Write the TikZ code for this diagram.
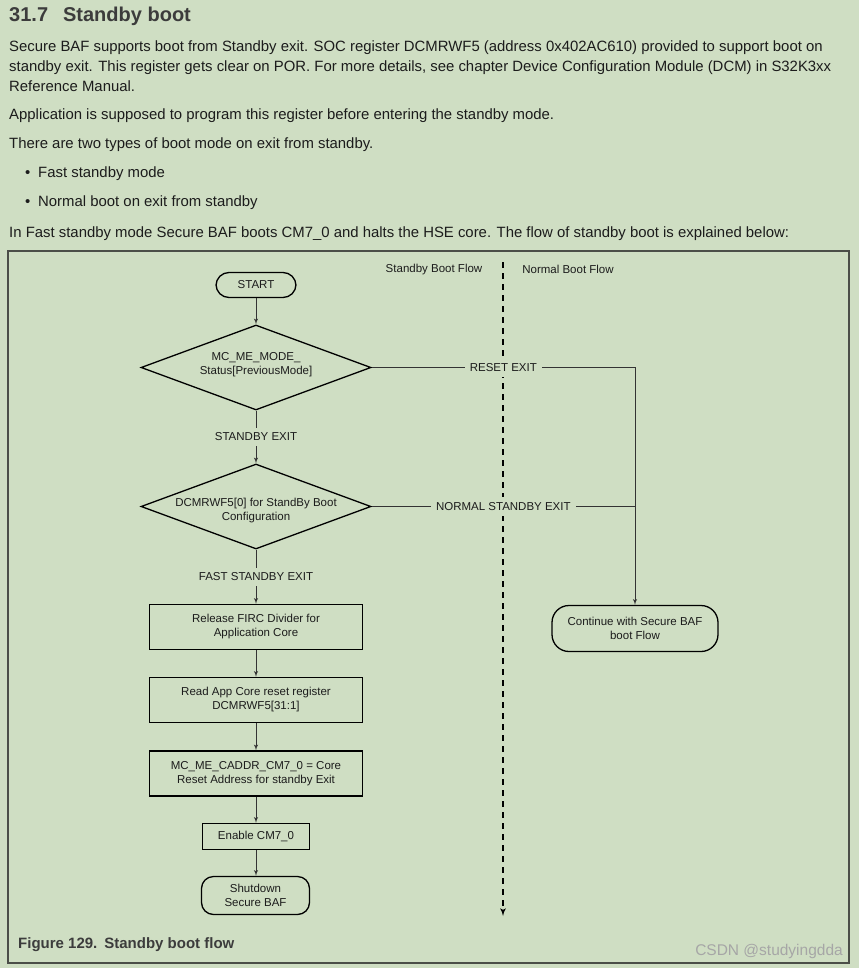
\documentclass[tikz,border=0pt]{standalone}
\usepackage{fontspec}
\setmainfont{Liberation Sans}
\usetikzlibrary{shapes,arrows,positioning}
\definecolor{pagebg}{RGB}{207,222,195}
\definecolor{bodytext}{RGB}{28,28,28}
\definecolor{headtext}{RGB}{60,60,60}
\definecolor{framegray}{RGB}{75,78,72}
\newcommand{\bodyfont}{\fontsize{14.9}{20}\selectfont}
\newcommand{\diagfont}{\fontsize{11.5}{14}\selectfont}

\begin{document}
\begin{tikzpicture}[
    x=1pt, y=1pt,
    textline/.style={anchor=base west, inner sep=0pt, text=bodytext, font=\bodyfont},
    term/.style={rectangle, draw=black, line width=1.3pt, rounded corners=13pt, align=center, font=\diagfont, text=bodytext},
    block/.style={rectangle, draw=black, line width=1.3pt, minimum width=213pt, minimum height=45pt, align=center, font=\diagfont, text=bodytext},
    decision/.style={diamond, draw=black, line width=1.3pt, aspect=2.7, minimum width=230pt, minimum height=85pt, inner sep=0pt},
    dtext/.style={align=center, font=\diagfont, text=bodytext},
    lbl/.style={fill=pagebg, inner sep=5pt, font=\diagfont, text=bodytext},
    line/.style={draw=black!80, line width=1pt, -latex'},
    link/.style={draw=black!80, line width=1pt},
    divider/.style={draw=black, line width=1.6pt, dash pattern=on 6pt off 5pt, -latex'}
  ]
    \fill[pagebg] (0,0) rectangle (859,-968);
    \useasboundingbox (0,0) rectangle (859,-968);

    % heading and text above the figure
    \node[textline, text=headtext, font=\fontsize{20}{24}\selectfont\bfseries] (title) at (9,-21.7) {31.7\hspace{15pt}Standby boot};
    \node[textline] (intro1) at (9,-51.7) {Secure BAF supports boot from Standby exit. SOC register DCMRWF5 (address 0x402AC610) provided to support boot on};
    \node[textline] (intro2) at (9,-71.7) {standby exit. This register gets clear on POR. For more details, see chapter Device Configuration Module (DCM) in S32K3xx};
    \node[textline] (intro3) at (9,-91.7) {Reference Manual.};
    \node[textline] (appnote) at (9,-120) {Application is supposed to program this register before entering the standby mode.};
    \node[textline] (types) at (9,-149) {There are two types of boot mode on exit from standby.};
    \node[textline] (bulletA) at (25,-178) {•};
    \node[textline] (fastmode) at (38,-178) {Fast standby mode};
    \node[textline] (bulletB) at (25,-207) {•};
    \node[textline] (normalmode) at (38,-207) {Normal boot on exit from standby};
    \node[textline] (flownote) at (9,-237) {In Fast standby mode Secure BAF boots CM7\_0 and halts the HSE core. The flow of standby boot is explained below:};

    % figure frame
    \draw[framegray, line width=2pt] (8,-251) rectangle (849,-963);

    % lane divider
    \coordinate (divtop) at (503,-262);
    \coordinate (divend) at (503,-916);
    \draw[divider] (divtop) -- (divend);
    \node[font=\diagfont, text=bodytext] (standbylane) at (434,-270) {Standby Boot Flow};
    \node[font=\diagfont, text=bodytext] (normallane) at (568,-269) {Normal Boot Flow};

    % standby boot flow
    \node[term, minimum width=80pt, minimum height=25pt] (start) at (256,-285) {START};
    \node[decision, label={[dtext, name=modetext, yshift=3pt]center:MC\_ME\_MODE\_\\Status[PreviousMode]}] (mode) at (256,-367.5) {};
    \node[decision, label={[dtext, name=cfgtext, yshift=-4pt]center:DCMRWF5[0] for StandBy Boot\\Configuration}] (cfg) at (256,-506.5) {};
    \node[block] (firc) at (256,-627) {Release FIRC Divider for\\Application Core};
    \node[block] (readreg) at (256,-700) {Read App Core reset register\\DCMRWF5[31:1]};
    \node[block] (caddr) at (256,-773.5) {MC\_ME\_CADDR\_CM7\_0 = Core\\Reset Address for standby Exit};
    \node[block, minimum width=107pt, minimum height=26pt] (enable) at (256,-836.5) {Enable CM7\_0};
    \node[term, rounded corners=12pt, minimum width=108pt, minimum height=38pt] (shutdown) at (255.5,-895.5) {Shutdown\\Secure BAF};

    % normal boot flow
    \node[term, rounded corners=17pt, minimum width=166pt, minimum height=46pt] (cont) at (635,-628.5) {Continue with Secure BAF\\boot Flow};

    \path [line] (start) -- (mode);
    \path [line] (mode) -- node[lbl] {STANDBY EXIT} (cfg);
    \path [line] (cfg) -- node[lbl] {FAST STANDBY EXIT} (firc);
    \path [line] (firc) -- (readreg);
    \path [line] (readreg) -- (caddr);
    \path [line] (caddr) -- (enable);
    \path [line] (enable) -- (enable |- shutdown.north);
    \path [line] (mode.east) -- node[lbl] {RESET EXIT} (mode.east -| cont) -- (cont.north);
    \path [link] (cfg.east) -- node[lbl] {NORMAL STANDBY EXIT} (cfg.east -| cont);

    % caption
    \node[textline, text=headtext, font=\fontsize{15}{18}\selectfont\bfseries] (caption) at (18,-948) {Figure 129.\hspace{7pt}Standby boot flow};
    \node[anchor=base east, inner sep=0pt, text=black!35, font=\fontsize{15.5}{18}\selectfont] (mark) at (843,-955) {CSDN @studyingdda};
\end{tikzpicture}
\end{document}
